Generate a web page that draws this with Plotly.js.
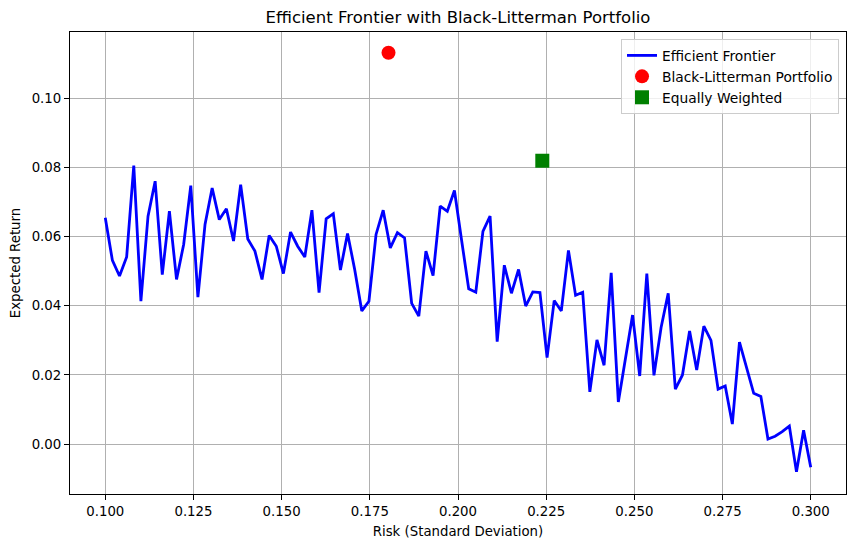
<!DOCTYPE html>
<html>
<head>
<meta charset="utf-8">
<script src="https://cdn.plot.ly/plotly-3.0.1.min.js"></script>
<style>html,body{margin:0;padding:0;background:#fff;}#chart{width:855px;height:547px;}</style>
</head>
<body>
<div id="chart"></div>
<script>
// Risk levels: 100 evenly spaced points from 0.10 to 0.30
const riskStart = 0.10;
const riskEnd = 0.30;
const nPoints = 100;
const frontierRisk = [];
for (let i = 0; i < nPoints; i++) frontierRisk.push(riskStart + (riskEnd - riskStart) * i / (nPoints - 1));

const frontierReturn = [
  0.0654, 0.0531, 0.0486, 0.0541, 0.0805, 0.0413, 0.0659, 0.0760, 0.0490, 0.0673,
  0.0476, 0.0577, 0.0747, 0.0425, 0.0635, 0.0740, 0.0649, 0.0680, 0.0587, 0.0750,
  0.0593, 0.0558, 0.0476, 0.0603, 0.0572, 0.0493, 0.0613, 0.0572, 0.0541, 0.0676,
  0.0438, 0.0651, 0.0666, 0.0503, 0.0609, 0.0505, 0.0385, 0.0413, 0.0606, 0.0676,
  0.0567, 0.0611, 0.0596, 0.0407, 0.0370, 0.0558, 0.0487, 0.0688, 0.0673, 0.0733,
  0.0590, 0.0449, 0.0439, 0.0615, 0.0659, 0.0296, 0.0517, 0.0436, 0.0505, 0.0399,
  0.0440, 0.0438, 0.0250, 0.0415, 0.0385, 0.0560, 0.0430, 0.0439, 0.0151, 0.0301,
  0.0228, 0.0495, 0.0122, 0.0248, 0.0373, 0.0197, 0.0493, 0.0199, 0.0337, 0.0436,
  0.0159, 0.0200, 0.0327, 0.0214, 0.0341, 0.0300, 0.0159, 0.0168, 0.0058, 0.0295,
  0.0221, 0.0147, 0.0138, 0.0015, 0.0023, 0.0036, 0.0052, -0.0080, 0.0040, -0.0067
];

const blRisk = [0.1803];
const blReturn = [0.1131];
const ewRisk = [0.2239];
const ewReturn = [0.0819];

const seriesNames = ["Efficient Frontier", "Black-Litterman Portfolio", "Equally Weighted"];

const font = {family: "DejaVu Sans, sans-serif", color: "#000"};

const traces = [
  {x: frontierRisk, y: frontierReturn, mode: "lines", name: seriesNames[0],
   line: {color: "#0000ff", width: 2.8}},
  {x: blRisk, y: blReturn, mode: "markers", name: seriesNames[1],
   marker: {color: "#ff0000", size: 14, symbol: "circle"}},
  {x: ewRisk, y: ewReturn, mode: "markers", name: seriesNames[2],
   marker: {color: "#008000", size: 14, symbol: "square"}}
];

const axisCommon = {
  showline: true, mirror: true, linecolor: "#000", linewidth: 1.1,
  showgrid: true, gridcolor: "#b0b0b0", gridwidth: 1,
  zeroline: false, ticks: "outside", ticklen: 5, tickcolor: "#000", tickwidth: 1,
  tickfont: Object.assign({size: 13.3}, font), automargin: false
};

const layout = {
  width: 855, height: 547,
  paper_bgcolor: "#fff", plot_bgcolor: "#fff",
  margin: {l: 70, r: 9, t: 32, b: 53},
  font: font,
  title: {text: "Efficient Frontier with Black-Litterman Portfolio",
          font: Object.assign({size: 16.5}, font),
          x: 0.5, xref: "paper", xanchor: "center", y: 1 - 17/547, yref: "container", yanchor: "middle"},
  xaxis: Object.assign({}, axisCommon, {
    range: [0.09, 0.31], dtick: 0.025, tick0: 0.1, tickformat: ".3f",
    title: {text: "Risk (Standard Deviation)", font: Object.assign({size: 13.3}, font), standoff: 8}
  }),
  yaxis: Object.assign({}, axisCommon, {
    range: [-0.0144, 0.1191], dtick: 0.02, tick0: 0, tickformat: ".2f",
    title: {text: "Expected Return", font: Object.assign({size: 13.3}, font), standoff: 8}
  }),
  showlegend: true,
  legend: {x: 0.991, y: 0.985, xanchor: "right", yanchor: "top",
           bgcolor: "rgba(255,255,255,0.8)", bordercolor: "#cccccc", borderwidth: 1,
           font: Object.assign({size: 13.8}, font), tracegroupgap: 0, itemwidth: 30}
};

Plotly.newPlot("chart", traces, layout, {displayModeBar: false, staticPlot: true});
</script>
</body>
</html>
